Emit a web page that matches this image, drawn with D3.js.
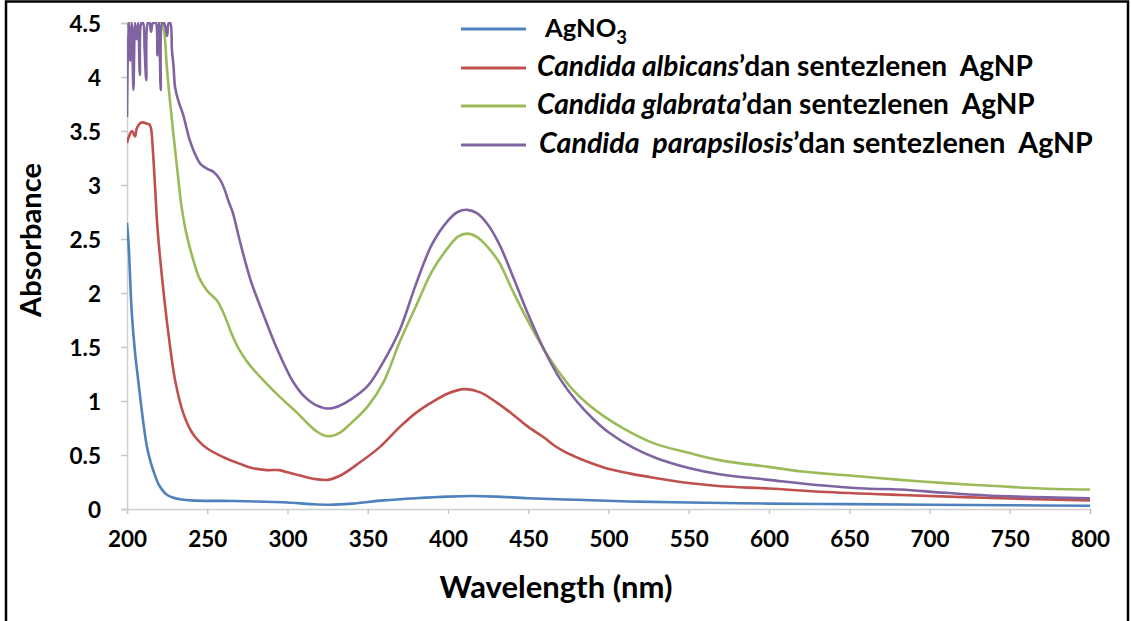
<!DOCTYPE html>
<html>
<head>
<meta charset="utf-8">
<script src="https://cdn.jsdelivr.net/npm/d3@7"></script>
<style>
  html, body { margin: 0; padding: 0; background: #fff; }
  svg { display: block; font-family: Lato, "Open Sans", sans-serif; }
  text { white-space: pre; }
</style>
</head>
<body>
<svg id="chart" width="1131" height="621"></svg>
<script>
// UV-Vis spectra: [wavelength (nm), absorbance]
const agno3 = [[200,2.65],[201,2.45],[203,1.81],[205,1.45],[207,1.19],[210,0.82],[212.5,0.57],[215,0.42],[217,0.33],[220,0.22],[225,0.13],[230,0.10],[240,0.08],[260,0.075],[280,0.07],[300,0.06],[315,0.045],[326,0.04],[340,0.05],[360,0.08],[380,0.10],[400,0.115],[415,0.12],[430,0.115],[450,0.10],[480,0.085],[513,0.07],[550,0.06],[600,0.05],[650,0.045],[700,0.04],[750,0.035],[800,0.03]];

const albicans = [[200,3.39],[201,3.44],[203,3.50],[205,3.45],[206,3.52],[208,3.57],[210,3.58],[212,3.57],[214,3.56],[215,3.52],[216,3.35],[217.5,2.98],[219,2.60],[222,2.12],[226,1.60],[230,1.19],[235,0.89],[240,0.72],[244,0.64],[250,0.56],[260,0.48],[270,0.42],[278,0.38],[287,0.36],[295,0.36],[300,0.34],[308,0.31],[316,0.28],[325,0.27],[333,0.31],[345,0.43],[358,0.58],[370,0.76],[380,0.89],[389,0.98],[400,1.07],[410,1.11],[420,1.08],[430,0.99],[440,0.88],[450,0.76],[460,0.66],[466,0.59],[472,0.535],[483,0.46],[497,0.385],[513,0.33],[528,0.29],[550,0.24],[570,0.21],[600,0.19],[632,0.16],[682,0.13],[744,0.10],[800,0.08]];

const glabrata = [[200,4.1],[201,4.5],[222,4.5],[223,4.45],[225,4.06],[228,3.60],[232,3.05],[234,2.80],[237,2.55],[241,2.32],[245,2.14],[250,2.02],[256,1.93],[260,1.82],[265,1.63],[269,1.50],[275,1.36],[285,1.19],[295,1.04],[306,0.89],[312,0.80],[318,0.72],[323,0.68],[327,0.675],[333,0.71],[340,0.80],[350,0.95],[360,1.18],[370,1.55],[381,1.91],[390,2.20],[400,2.42],[406,2.52],[412,2.55],[418,2.52],[425,2.42],[432,2.28],[440,2.03],[447,1.82],[455,1.60],[463,1.40],[470,1.25],[478,1.10],[488,0.96],[497,0.86],[510,0.74],[528,0.61],[550,0.52],[570,0.45],[600,0.39],[619,0.35],[650,0.31],[682,0.27],[710,0.24],[744,0.21],[770,0.19],[800,0.18]];

const parapsilosis = [[200,3.63],[201,4.5],[202,4.15],[203,4.5],[204,3.88],[205,4.5],[206,4.35],[207,4.5],[208,4.02],[209,4.5],[210,4.5],[211,4.25],[212,3.97],[213,4.5],[214,4.5],[215,4.42],[216,4.5],[217,4.5],[218,4.5],[219,4.2],[220,4.5],[221,3.88],[222,4.5],[223,4.5],[224,4.46],[225,4.38],[226,4.5],[227,4.5],[228,4.25],[229,4.1],[230,3.9],[232,3.78],[235,3.65],[239,3.42],[242,3.30],[246,3.19],[250,3.15],[254,3.12],[258,3.05],[261,2.95],[263,2.86],[266,2.74],[270,2.50],[277,2.12],[285,1.80],[293,1.50],[303,1.19],[310,1.05],[318,0.96],[326,0.93],[333,0.96],[340,1.02],[350,1.14],[360,1.37],[370,1.66],[380,2.08],[390,2.45],[400,2.67],[406,2.75],[412,2.77],[418,2.74],[425,2.63],[432,2.45],[440,2.17],[450,1.80],[460,1.47],[470,1.20],[480,1.00],[490,0.84],[500,0.71],[515,0.57],[530,0.47],[550,0.38],[570,0.32],[600,0.27],[632,0.22],[660,0.19],[682,0.18],[710,0.15],[744,0.12],[800,0.10]];

const xTicks = [200,250,300,350,400,450,500,550,600,650,700,750,800];
const yTicks = [0,0.5,1,1.5,2,2.5,3,3.5,4,4.5];
const yTickLabels = ["0","0.5","1","1.5","2","2.5","3","3.5","4","4.5"];

const seriesData = [agno3, albicans, glabrata, parapsilosis];
const seriesColors = ["#4f81bd","#c0504d","#9bbb59","#8064a2"];

const svg = d3.select("#chart");

// outer frame
svg.append("rect")
  .attr("x", 6).attr("y", 1.5)
  .attr("width", 1122).attr("height", 660)
  .attr("fill", "none").attr("stroke", "#000").attr("stroke-width", 2.5);

const plot = { left: 127, right: 1090, top: 23, bottom: 509 };

const x = d3.scaleLinear().domain([200, 800]).range([plot.left, plot.right]);
const y = d3.scaleLinear().domain([0, 4.5]).range([plot.bottom, plot.top]);

// axes
const xAxis = svg.append("g")
  .attr("transform", `translate(0,${plot.bottom})`)
  .call(d3.axisBottom(x).tickValues(xTicks).tickSize(5).tickPadding(17));
const yAxis = svg.append("g")
  .attr("transform", `translate(${plot.left},0)`)
  .call(d3.axisLeft(y).tickValues(yTicks).tickSize(6)
    .tickFormat((d, i) => yTickLabels[i]).tickPadding(20));

[xAxis, yAxis].forEach(g => {
  g.select(".domain").attr("stroke", "#d0d0d0").attr("stroke-width", 1.5);
  g.selectAll(".tick line").attr("stroke", "#c8c8c8").attr("stroke-width", 1.5);
  g.selectAll(".tick text")
    .attr("fill", "#000")
    .style("font-family", "Lato, sans-serif")
    .style("font-weight", "bold")
    .style("font-size", "22.5px");
});
yAxis.selectAll(".tick text").attr("dy", "0.36em");

// clip lines to plot area
svg.append("clipPath").attr("id", "plotClip")
  .append("rect")
  .attr("x", plot.left).attr("y", plot.top - 1)
  .attr("width", plot.right - plot.left + 2).attr("height", plot.bottom - plot.top + 2);

const line = d3.line()
  .x(d => x(d[0]))
  .y(d => y(d[1]))
  .curve(d3.curveCatmullRom.alpha(0.5));

svg.append("g").attr("clip-path", "url(#plotClip)")
  .selectAll("path")
  .data(seriesData)
  .join("path")
  .attr("d", line)
  .attr("fill", "none")
  .attr("stroke", (d, i) => seriesColors[i])
  .attr("stroke-width", 2.6)
  .attr("stroke-linejoin", "round");

// fit a text element's width by scaling its font size
function fitWidth(sel, target) {
  const node = sel.node();
  const fs = parseFloat(sel.style("font-size"));
  const w = node.getComputedTextLength();
  sel.style("font-size", (fs * target / w).toFixed(2) + "px");
}

// axis titles
const xTitle = svg.append("text")
  .attr("x", 556).attr("y", 598)
  .attr("text-anchor", "middle")
  .style("font-weight", "bold").style("font-size", "27px")
  .attr("fill", "#000")
  .text("Wavelength (nm)");
fitWidth(xTitle, 233);

const yTitle = svg.append("text")
  .attr("transform", "translate(41,240) rotate(-90)")
  .attr("text-anchor", "middle")
  .style("font-weight", "bold").style("font-size", "27px")
  .attr("fill", "#000")
  .text("Absorbance");
fitWidth(yTitle, 154);

// legend
const legendRows = [
  { ly: 29, tx: 545, width: 82, parts: [["AgNO", false], ["3", false, true]] },
  { ly: 68, tx: 537, width: 496, parts: [["Candida albicans", true], ["’dan sentezlenen  AgNP", false]] },
  { ly: 106, tx: 537, width: 498, parts: [["Candida glabrata", true], ["’dan sentezlenen  AgNP", false]] },
  { ly: 145, tx: 539, width: 554, parts: [["Candida  parapsilosis", true], ["’dan sentezlenen  AgNP", false]] }
];

const legend = svg.append("g");
legendRows.forEach((row, i) => {
  legend.append("line")
    .attr("x1", 461).attr("x2", 526)
    .attr("y1", row.ly).attr("y2", row.ly)
    .attr("stroke", seriesColors[i]).attr("stroke-width", 3);
  const t = legend.append("text")
    .attr("x", row.tx).attr("y", row.ly + 8)
    .style("font-weight", "bold").style("font-size", "22px")
    .attr("fill", "#000");
  row.parts.forEach(p => {
    const ts = t.append("tspan").text(p[0]);
    if (p[1]) ts.style("font-style", "italic");
    if (p[2]) ts.attr("dy", 7).style("font-size", "0.72em");
  });
  fitWidth(t, row.width);
});
</script>
</body>
</html>
